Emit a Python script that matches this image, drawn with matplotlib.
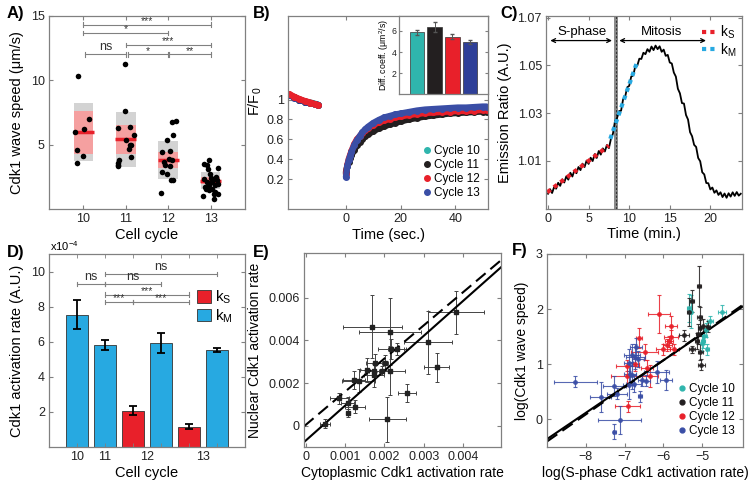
import numpy as np
import matplotlib
matplotlib.use("Agg")
import matplotlib.pyplot as plt
from matplotlib.patches import Patch
from matplotlib.lines import Line2D

plt.rcParams["font.family"] = ["Liberation Sans", "DejaVu Sans"]
plt.rcParams["font.size"] = 10
plt.rcParams["mathtext.fontset"] = "custom"
plt.rcParams["mathtext.rm"] = "Liberation Sans"
plt.rcParams["mathtext.it"] = "Liberation Sans"

# colours
CYAN = "#2fb5ad"
BLACK = "#231f20"
RED = "#e8202a"
NAVY = "#2e3f98"
BLUE = "#3a4ea6"
SKY = "#27a9e1"
GREY_SP = "#808080"

TICK = 9
LAB = 10.5

# ---------------- A) wave speed per cycle ----------------
cyc_A = [10, 11, 12, 13]
speed_mean = [5.98, 5.41, 3.81, 2.20]
speed_sd = [2.27, 2.13, 1.48, 0.68]
speed_ci = [1.67, 1.13, 0.65, 0.27]
pts10_x = [9.88, 9.80, 9.86, 9.86, 9.99, 10.02, 10.14]
pts10_y = [10.31, 5.98, 4.56, 3.58, 4.09, 6.19, 7.02]
pts11_x = [10.99, 10.98, 10.81, 11.09, 11.19, 11.00, 11.12, 11.10, 11.07, 11.12, 10.83, 10.82, 10.81, 10.81]
pts11_y = [11.3, 7.62, 6.32, 6.40, 5.75, 5.39, 5.00, 4.95, 4.66, 4.04, 3.83, 3.60, 3.45, 3.32]
pts12_x = [12.10, 12.18, 12.12, 11.96, 11.86, 12.04, 12.01, 11.89, 12.08, 11.93, 12.04, 11.85, 11.96, 12.06, 12.12, 11.83]
pts12_y = [6.76, 6.81, 5.73, 5.39, 4.43, 4.48, 3.91, 3.65, 3.78, 3.45, 3.34, 2.88, 2.75, 2.23, 2.23, 1.24]
pts13_x = [12.95, 12.84, 12.91, 13.18, 12.93, 12.99, 12.84, 13.07, 13.15, 13.03, 12.91, 12.95, 13.10,
           13.18, 12.86, 13.03, 13.18, 12.81, 13.07, 12.95, 13.10, 13.07, 12.88, 13.01, 13.12]
pts13_y = [3.83, 3.52, 3.39, 3.21, 3.13, 2.75, 2.36, 2.36, 2.23, 2.10, 2.10, 1.84, 1.84,
           1.97, 1.71, 1.58, 1.19, 0.98, 1.19, 1.45, 1.32, 0.80, 1.58, 2.44, 2.49]
sig_A = [(10, 13, 14.33, "***"), (10, 12, 13.68, "*"), (11, 13, 12.75, "***"),
         (10.05, 11, 12.02, "ns"), (11.05, 12, 12.02, "*"), (12.03, 13, 12.02, "**")]

# ---------------- B) FRAP ----------------
pre_t = [-20.8, -19, -17, -15, -13, -11.5, -10.3]
pre_cyan = [1.045, 1.025, 1.000, 0.980, 0.970, 0.960, 0.950]
pre_black = [1.050, 1.025, 1.000, 0.980, 0.965, 0.955, 0.945]
pre_blue = [1.050, 1.020, 1.000, 0.980, 0.965, 0.955, 0.950]
pre_red = [1.055, 1.030, 1.005, 0.985, 0.970, 0.955, 0.945]
rec_t = [0, 0.5, 1, 1.5, 2, 3, 4, 5, 6, 7, 8, 10, 12, 14, 16, 18, 20, 23, 26, 29, 32, 35, 38, 41, 44, 47, 50, 51.5]
rec_blue = [0.22, 0.33, 0.39, 0.43, 0.47, 0.54, 0.59, 0.63, 0.67, 0.70, 0.725, 0.765, 0.795, 0.82, 0.835,
            0.85, 0.86, 0.875, 0.89, 0.90, 0.905, 0.91, 0.915, 0.92, 0.92, 0.925, 0.93, 0.93]
rec_red = [0.25, 0.34, 0.40, 0.44, 0.48, 0.55, 0.60, 0.63, 0.665, 0.69, 0.71, 0.745, 0.77, 0.79, 0.805,
           0.82, 0.83, 0.845, 0.855, 0.865, 0.87, 0.875, 0.88, 0.885, 0.885, 0.89, 0.895, 0.895]
rec_cyan = [0.26, 0.33, 0.38, 0.42, 0.45, 0.51, 0.56, 0.60, 0.63, 0.66, 0.685, 0.72, 0.75, 0.77, 0.79,
            0.805, 0.82, 0.835, 0.85, 0.86, 0.865, 0.875, 0.88, 0.885, 0.89, 0.895, 0.90, 0.90]
rec_black = [0.27, 0.33, 0.37, 0.41, 0.44, 0.49, 0.54, 0.57, 0.60, 0.63, 0.65, 0.68, 0.71, 0.73, 0.75,
             0.765, 0.78, 0.80, 0.815, 0.83, 0.84, 0.85, 0.86, 0.865, 0.87, 0.875, 0.88, 0.88]
diff_coef = [5.85, 6.35, 5.45, 4.95]
diff_err = [0.27, 0.50, 0.26, 0.16]

# ---------------- C) FRET trace ----------------
er_vals = [0.9962, 0.9981, 0.9965, 0.9990, 0.9983, 1.0008, 0.9995, 1.0022, 1.0009, 1.0035, 1.0021, 1.0050,
           1.0034, 1.0060, 1.0048, 1.0074, 1.0061, 1.0088, 1.0074, 1.0101, 1.0087, 1.0113, 1.0099, 1.0128,
           1.0112, 1.0141, 1.0126, 1.0152, 1.0139, 1.0166, 1.0153, 1.0192, 1.0214, 1.0266, 1.0279, 1.0308,
           1.0310, 1.0358, 1.0368, 1.0408, 1.0414, 1.0453, 1.0458, 1.0496, 1.0499, 1.0528, 1.0527, 1.0553,
           1.0547, 1.0568, 1.0557, 1.0579, 1.0564, 1.0583, 1.0568, 1.0580, 1.0557, 1.0566, 1.0540, 1.0544,
           1.0512, 1.0508, 1.0470, 1.0453, 1.0402, 1.0383, 1.0342, 1.0340, 1.0292, 1.0273, 1.0220, 1.0203,
           1.0167, 1.0158, 1.0112, 1.0098, 1.0052, 1.0043, 1.0007, 1.0006, 0.9980, 0.9988, 0.9966, 0.9976,
           0.9957, 0.9968, 0.9948, 0.9963, 0.9945, 0.9964, 0.9950, 0.9968, 0.9953, 0.9969, 0.9954, 0.9962]
er_t = np.arange(len(er_vals)) * 0.25
kS_t = [-0.1, 7.5]
kS_y = [0.9968, 1.0164]
kM_t = [7.67, 10.96]
kM_y = [1.0192, 1.0513]

# ---------------- D) activation rates ----------------
rate_val = [7.55, 5.81, 2.08, 5.92, 1.15, 5.53]
rate_err = [0.83, 0.26, 0.25, 0.59, 0.14, 0.10]
rate_kind = ["M", "M", "S", "M", "S", "M"]
cycle_lbl_D = ["10", "11", "12", "13"]
cycle_pos_D = [1, 2, 3.5, 5.5]
sig_D = [(2, 6, 9.85, "ns"), (1, 2, 9.28, "ns"), (2, 4, 9.28, "ns"), (2, 5, 8.69, "***"),
         (2, 3, 8.26, "***"), (3, 5, 8.26, "***")]

# ---------------- E) nuclear vs cytoplasmic ----------------
cyto = [0.00048, 0.00085, 0.00106, 0.00108, 0.00125, 0.00122, 0.00134, 0.00155, 0.00173, 0.00173, 0.00176,
        0.00169, 0.00214, 0.00202, 0.00193, 0.00214, 0.00216, 0.00231, 0.00207, 0.00257, 0.00312, 0.00333, 0.00383]
nucl = [0.00010, 0.00128, 0.00107, 0.00060, 0.00089, 0.00214, 0.00211, 0.00261, 0.00258, 0.00238, 0.00293,
        0.00465, 0.00441, 0.00296, 0.00258, 0.00258, 0.00360, 0.00360, 0.00030, 0.00155, 0.00391, 0.00274, 0.00531]
cyto_err = [0.00013, 0.00024, 0.00017, 0.00004, 0.00026, 0.00028, 0.00043, 0.00018, 0.00012, 0.00026, 0.00023,
            0.00075, 0.00079, 0.00008, 0.00020, 0.00038, 0.00033, 0.00023, 0.00047, 0.00023, 0.00061, 0.00032, 0.00071]
nucl_err = [0.00020, 0.00027, 0.00027, 0.00020, 0.00030, 0.00043, 0.00055, 0.00057, 0.00030, 0.00055, 0.00043,
            0.00147, 0.00157, 0.00035, 0.00020, 0.00115, 0.00047, 0.00027, 0.00106, 0.00042, 0.00147, 0.00068, 0.00102]
E_fit_x = [-0.00005, 0.00497]
E_solid = [-0.00077, 0.00743]
E_dashed = [-0.00003, 0.00776]

# ---------------- F) log-log ----------------
c10_x = [-5.33, -5.30, -4.97, -4.95, -4.87, -4.80, -4.90, -4.50, -5.00]
c10_y = [2.02, 1.95, 1.42, 1.51, 1.27, 1.78, 1.62, 1.95, 1.39]
c10_xe = [0.05, 0.04, 0.05, 0.06, 0.04, 0.07, 0.05, 0.10, 0.04]
c10_ye = [0.25, 0.30, 0.12, 0.15, 0.10, 0.10, 0.12, 0.12, 0.15]
c11_x = [-5.08, -5.27, -5.35, -5.07, -5.07, -4.97, -5.10, -5.47, -5.27, -5.05, -5.02, -5.14, -4.85]
c11_y = [2.42, 2.15, 1.95, 1.85, 1.66, 1.70, 1.55, 1.53, 1.27, 1.22, 0.99, 1.42, 1.68]
c11_xe = [0.05, 0.05, 0.05, 0.06, 0.05, 0.08, 0.05, 0.12, 0.08, 0.06, 0.10, 0.05, 0.06]
c11_ye = [0.37, 0.20, 0.25, 0.18, 0.15, 0.12, 0.18, 0.10, 0.06, 0.15, 0.10, 0.15, 0.10]
c12_x = [-6.12, -5.80, -5.80, -5.86, -5.72, -6.02, -6.62, -6.48, -6.93, -6.95, -6.34, -6.43, -6.92, -6.72, -5.90]
c12_y = [1.91, 1.69, 1.50, 1.42, 1.27, 1.27, 1.47, 1.22, 0.97, 0.78, 0.78, 0.93, 0.24, 1.00, 1.35]
c12_xe = [0.28, 0.15, 0.18, 0.10, 0.12, 0.18, 0.08, 0.35, 0.30, 0.40, 0.20, 0.15, 0.32, 0.10, 0.12]
c12_ye = [0.35, 0.18, 0.12, 0.10, 0.10, 0.10, 0.18, 0.15, 0.10, 0.18, 0.20, 0.15, 0.10, 0.12, 0.10]
c13_x = [-8.27, -7.62, -7.27, -7.20, -7.27, -7.13, -6.90, -6.86, -6.81, -6.71, -6.72, -6.80, -6.60, -6.55,
         -6.17, -5.94, -6.77, -6.88, -6.65, -6.45]
c13_y = [0.68, 0.40, 0.60, 0.47, -0.22, -0.01, 1.02, 0.83, 1.16, 1.32, 1.14, 0.80, 0.42, 0.71,
         0.86, 0.72, 0.65, 0.62, 1.10, 0.70]
c13_xe = [0.55, 0.28, 0.30, 0.25, 0.04, 0.55, 0.12, 0.15, 0.20, 0.15, 0.25, 0.10, 0.06, 0.10,
          0.32, 0.15, 0.20, 0.15, 0.15, 0.10]
c13_ye = [0.10, 0.27, 0.18, 0.10, 0.13, 0.25, 0.25, 0.15, 0.20, 0.15, 0.22, 0.25, 0.10, 0.10,
          0.20, 0.18, 0.15, 0.25, 0.15, 0.10]
F_fit_x = [-9.0, -3.95]
F_solid = [-0.357, 2.05]
F_dashed = [-0.40, 2.08]


def style(ax, size=TICK):
    for s in ax.spines.values():
        s.set_color(GREY_SP)
        s.set_linewidth(0.9)
    ax.tick_params(direction="in", top=True, right=True, length=3, color=GREY_SP,
                   labelsize=size, pad=3, labelcolor="#222222")


def bracket(ax, x0, x1, y, txt, cap, ns_size=9):
    ax.plot([x0, x1], [y, y], color=GREY_SP, lw=0.8)
    ax.plot([x0, x0], [y - cap, y + cap], color=GREY_SP, lw=0.8)
    ax.plot([x1, x1], [y - cap, y + cap], color=GREY_SP, lw=0.8)
    if txt == "ns":
        ax.text((x0 + x1) / 2, y + cap * 0.4, txt, ha="center", va="bottom",
                fontsize=ns_size, color="#333333")
    else:
        ax.text((x0 + x1) / 2, y - cap * 0.6, txt, ha="center", va="bottom",
                fontsize=7.5, color="#333333")


W, H = 754, 486
fig = plt.figure(figsize=(W / 100, H / 100), dpi=100)


def box(x0, y0, x1, y1):
    return [x0 / W, 1 - y1 / H, (x1 - x0) / W, (y1 - y0) / H]


# ---- A ----
axA = fig.add_axes(box(49, 16, 245, 209))
axA.bar(cyc_A, [2 * s for s in speed_sd], bottom=[m - s for m, s in zip(speed_mean, speed_sd)],
        width=0.46, color="#d3d3d3", zorder=1)
axA.bar(cyc_A, [2 * s for s in speed_ci], bottom=[m - s for m, s in zip(speed_mean, speed_ci)],
        width=0.46, color="#f5a0a0", zorder=2)
axA.hlines(speed_mean, [c - 0.25 for c in cyc_A], [c + 0.25 for c in cyc_A], color=RED, lw=2.5, zorder=3)
for px, py in [(pts10_x, pts10_y), (pts11_x, pts11_y), (pts12_x, pts12_y), (pts13_x, pts13_y)]:
    axA.scatter(px, py, s=16, color="black", zorder=4, linewidths=0)
for x0, x1, y, t in sig_A:
    bracket(axA, x0, x1, y, t, 0.17)
axA.set_xlim(9.19, 13.81)
axA.set_ylim(0, 15)
axA.set_xticks(cyc_A)
axA.set_yticks([5, 10, 15])
axA.set_xlabel("Cell cycle", fontsize=LAB, labelpad=2)
axA.set_ylabel("Cdk1 wave speed (μm/s)", fontsize=LAB, labelpad=5)
style(axA)

# ---- B ----
axB = fig.add_axes(box(288, 16, 488, 209))
for yv, c in [(pre_cyan, CYAN), (pre_black, BLACK), (pre_blue, NAVY), (pre_red, RED)]:
    axB.plot(pre_t, yv, color=c, lw=4.5, marker="o", ms=4, solid_capstyle="round")
for yv, c in [(rec_cyan, CYAN), (rec_black, BLACK), (rec_red, RED), (rec_blue, BLUE)]:
    axB.plot(rec_t, yv, color=c, lw=4.5, marker="o", ms=4, solid_capstyle="round")
axB.set_xlim(-21.2, 52)
axB.set_ylim(-0.1, 1.84)
axB.set_xticks([0, 20, 40])
axB.set_yticks([0.2, 0.4, 0.6, 0.8, 1.0])
axB.set_yticklabels(["0.2", "0.4", "0.6", "0.8", "1"])
axB.set_xlabel("Time (sec.)", fontsize=LAB, labelpad=2)
axB.set_ylabel(r"$\mathrm{F/F_0}$", fontsize=LAB)
axB.yaxis.set_label_coords(-0.12, 0.56)
style(axB)
hB = [Line2D([], [], ls="none", marker="o", ms=4, color=c) for c in (CYAN, BLACK, RED, BLUE)]
axB.legend(hB, ["Cycle 10", "Cycle 11", "Cycle 12", "Cycle 13"], loc="lower right",
           bbox_to_anchor=(1.0, 0.01), frameon=False, fontsize=8.5, handletextpad=0.1,
           labelspacing=0.15, handlelength=1.0, borderaxespad=0.3)

axI = fig.add_axes(box(399, 16, 488, 94.5))
axI.bar([1, 2, 3, 4], diff_coef, yerr=diff_err, width=0.8, color=[CYAN, BLACK, RED, NAVY],
        edgecolor="#333333", linewidth=0.5, capsize=1.5, error_kw=dict(lw=0.7, ecolor="#555555"))
axI.set_xlim(0, 5)
axI.set_ylim(0, 7.4)
axI.set_xticks([])
axI.set_yticks([2, 4, 6])
axI.set_ylabel("Diff. coeff. (μm$^2$/s)", fontsize=6.3, labelpad=1)
style(axI, size=6.3)
axI.tick_params(top=False, pad=1.5, length=2)

# ---- C ----
axC = fig.add_axes(box(546, 16, 742, 209))
axC.axvspan(8.17, 8.62, color="#8c8c8c", lw=0)
axC.axvline(8.4, color="#333333", ls="--", lw=0.8, dashes=(2, 1.5))
axC.plot(er_t, er_vals, color="black", lw=1.3)
axC.plot(kS_t, kS_y, color=RED, lw=3, ls=(0, (1, 1)))
axC.plot(kM_t, kM_y, color=SKY, lw=3, ls=(0, (1, 1)))
axC.annotate("", xy=(0.28, 1.0604), xytext=(7.88, 1.0604),
             arrowprops=dict(arrowstyle="<->", color="black", lw=0.9, shrinkA=0, shrinkB=0,
                             mutation_scale=7))
axC.annotate("", xy=(8.78, 1.0604), xytext=(19.46, 1.0604),
             arrowprops=dict(arrowstyle="<->", color="black", lw=0.9, shrinkA=0, shrinkB=0,
                             mutation_scale=7))
axC.text(4.19, 1.0640, "S-phase", ha="center", va="center", fontsize=9.5)
axC.text(14.04, 1.0640, "Mitosis", ha="center", va="center", fontsize=9.5)
axC.set_xlim(-0.25, 23.9)
axC.set_ylim(0.9898, 1.0707)
axC.set_xticks([0, 5, 10, 15, 20])
axC.set_yticks([1.01, 1.03, 1.05, 1.07])
axC.set_yticklabels(["1.01", "1.03", "1.05", "1.07"])
axC.set_xlabel("Time (min.)", fontsize=LAB, labelpad=1)
axC.set_ylabel("Emission Ratio (A.U.)", fontsize=LAB, labelpad=4)
style(axC)
hC = [Line2D([], [], color=RED, lw=3, ls=(0, (1, 1))), Line2D([], [], color=SKY, lw=3, ls=(0, (1, 1)))]
axC.legend(hC, ["k$_S$", "k$_M$"], loc="upper right", bbox_to_anchor=(1.02, 1.01), frameon=False,
           fontsize=10, handlelength=1.0, handletextpad=0.3, labelspacing=0.0, borderaxespad=0.3)

# ---- D ----
axD = fig.add_axes(box(49, 254, 245, 447))
posD = np.arange(1, len(rate_val) + 1)
colD = [RED if k == "S" else SKY for k in rate_kind]
axD.bar(posD, rate_val, width=0.8, color=colD, edgecolor="#333333", linewidth=0.6)
axD.errorbar(posD, rate_val, yerr=rate_err, fmt="none", ecolor="black", elinewidth=1.3, capsize=3, capthick=1.3)
for x0, x1, y, t in sig_D:
    bracket(axD, x0, x1, y, t, 0.12, ns_size=9)
axD.set_xlim(0, 7)
axD.set_ylim(0, 11)
axD.xaxis.remove_overlapping_locs = False
axD.set_xticks(cycle_pos_D)
axD.set_xticklabels(cycle_lbl_D)
axD.set_xticks(posD, minor=True)
axD.set_yticks([2, 4, 6, 8, 10])
axD.set_xlabel("Cell cycle", fontsize=LAB, labelpad=2)
axD.set_ylabel("Cdk1 activation rate (A.U.)", fontsize=LAB, labelpad=5)
style(axD)
axD.tick_params(axis="x", which="major", length=0)
axD.tick_params(axis="x", which="minor", direction="in", top=True, length=3, color=GREY_SP)
axD.text(0.005, 1.005, "x10$^{-4}$", transform=axD.transAxes, fontsize=8, va="bottom", ha="left")
hD = [Patch(facecolor=RED, edgecolor="#333333", lw=0.6), Patch(facecolor=SKY, edgecolor="#333333", lw=0.6)]
axD.legend(hD, ["k$_S$", "k$_M$"], loc="upper right", bbox_to_anchor=(0.97, 0.85), frameon=False,
           fontsize=11, handlelength=0.9, handleheight=0.9, handletextpad=0.3, labelspacing=0.05,
           borderaxespad=0.0)

# ---- E ----
axE = fig.add_axes(box(304, 253, 501, 447))
axE.errorbar(cyto, nucl, xerr=cyto_err, yerr=nucl_err, fmt="s", ms=2.5, color="#222222",
             ecolor="#444444", elinewidth=0.7, capsize=1.5, capthick=0.7)
axE.plot(E_fit_x, E_solid, color="black", lw=1.5)
axE.plot(E_fit_x, E_dashed, color="black", lw=1.5, ls=(0, (6, 3)))
axE.set_xlim(-0.00005, 0.00497)
axE.set_ylim(-0.001, 0.0081)
axE.set_xticks([0, 0.001, 0.002, 0.003, 0.004])
axE.set_xticklabels(["0", "0.001", "0.002", "0.003", "0.004"])
axE.set_yticks([0, 0.002, 0.004, 0.006])
axE.set_yticklabels(["0", "0.002", "0.004", "0.006"])
axE.set_xlabel("Cytoplasmic Cdk1 activation rate", fontsize=10, labelpad=2)
axE.set_ylabel("Nuclear Cdk1 activation rate", fontsize=10, labelpad=5)
style(axE)

# ---- F ----
axF = fig.add_axes(box(547, 254, 743, 447))
F_col = [CYAN, BLACK, RED, BLUE]
for (fx, fy, fxe, fye), c in zip([(c10_x, c10_y, c10_xe, c10_ye), (c11_x, c11_y, c11_xe, c11_ye),
                                  (c12_x, c12_y, c12_xe, c12_ye), (c13_x, c13_y, c13_xe, c13_ye)], F_col):
    axF.errorbar(fx, fy, xerr=fxe, yerr=fye, fmt="o", ms=2.5, color=c, ecolor=c, elinewidth=0.8,
                 capsize=1.3, capthick=0.8, alpha=0.85)
axF.plot(F_fit_x, F_dashed, color="black", lw=1.5, ls=(0, (6, 3)))
axF.plot(F_fit_x, F_solid, color="black", lw=1.5)
axF.set_xlim(-9.0, -3.95)
axF.set_ylim(-0.5, 3)
axF.set_xticks([-8, -7, -6, -5])
axF.set_yticks([0, 1, 2, 3])
axF.set_xlabel("log(S-phase Cdk1 activation rate)", fontsize=10, labelpad=2)
axF.set_ylabel("log(Cdk1 wave speed)", fontsize=10, labelpad=5)
style(axF)
hF = [Line2D([], [], ls="none", marker="o", ms=3.5, color=c) for c in F_col]
axF.legend(hF, ["Cycle 10", "Cycle 11", "Cycle 12", "Cycle 13"], loc="lower right",
           bbox_to_anchor=(1.0, 0.01), frameon=False, fontsize=8.5, handletextpad=0.1,
           labelspacing=0.15, handlelength=1.0, borderaxespad=0.3)

# panel letters
for lbl, x, y in [("A)", 7, 6), ("B)", 253, 6), ("C)", 500, 6), ("D)", 7, 245), ("E)", 253, 245), ("F)", 512, 243)]:
    fig.text(x / W, 1 - y / H, lbl, fontsize=12, fontweight="bold", va="top", ha="left")

fig.savefig("out.png", dpi=100)
